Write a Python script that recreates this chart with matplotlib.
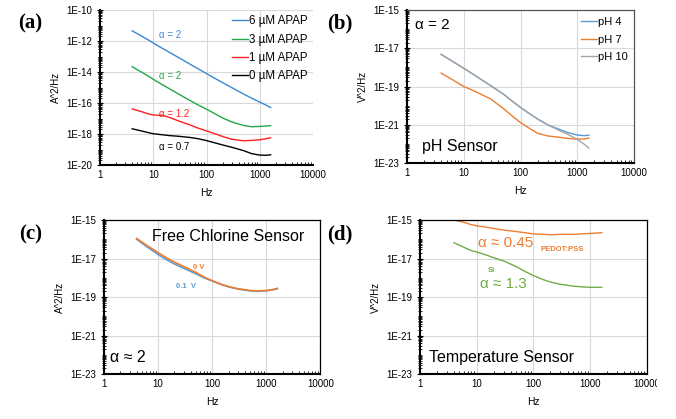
import numpy as np
import matplotlib
matplotlib.use("Agg")
import matplotlib.pyplot as plt
from matplotlib.ticker import FixedLocator, NullFormatter, LogLocator
from matplotlib.transforms import Bbox, TransformedBbox, IdentityTransform

plt.rcParams['font.family'] = ['Liberation Sans', 'DejaVu Sans']

"""Data read from the figure"""
freq = [4, 6, 8, 10, 15, 20, 30, 50, 70, 100, 150, 200, 300, 500, 700, 1000, 1300, 1600]

# (a) APAP sensor, A^2/Hz
apap_6 = [4.6e-12, 2.1e-12, 1.2e-12, 7.5e-13, 3.3e-13, 1.9e-13, 8.5e-14, 3.1e-14, 1.6e-14, 8e-15,
          3.6e-15, 2.1e-15, 9.8e-16, 3.8e-16, 2.1e-16, 1.15e-16, 7.5e-17, 5.2e-17]
apap_3 = [2.2e-14, 1.0e-14, 5.6e-15, 3.4e-15, 1.5e-15, 8.5e-16, 3.8e-16, 1.4e-16, 7.5e-17, 4e-17,
          1.9e-17, 1.1e-17, 6e-18, 3.6e-18, 3.0e-18, 3.1e-18, 3.3e-18, 3.5e-18]
apap_1 = [4.2e-17, 2.8e-17, 2.0e-17, 1.7e-17, 1.6e-17, 1.2e-17, 7e-18, 3.8e-18, 2.4e-18, 1.6e-18,
          1.0e-18, 7e-19, 4.6e-19, 3.7e-19, 3.9e-19, 4.3e-19, 5e-19, 5.8e-19]
apap_0 = [2.2e-18, 1.6e-18, 1.25e-18, 1.05e-18, 9e-19, 8e-19, 7.2e-19, 6e-19, 5e-19, 3.8e-19,
          2.6e-19, 2e-19, 1.4e-19, 8.5e-20, 5.5e-20, 4.4e-20, 4.3e-20, 4.6e-20]
apap_labels = ["6 µM APAP", "3 µM APAP", "1 µM APAP", "0 µM APAP"]

# (b) pH sensor, V^2/Hz
ph_4 = [4.8e-18, 2.3e-18, 1.35e-18, 9e-19, 4.2e-19, 2.4e-19, 1.1e-19, 4.0e-20, 1.8e-20, 8e-21,
        3.5e-21, 2.0e-21, 1.0e-21, 5.5e-22, 3.8e-22, 2.9e-22, 2.7e-22, 2.8e-22]
ph_7 = [5e-19, 2.5e-19, 1.5e-19, 1.0e-19, 6e-20, 4e-20, 2.2e-20, 7e-21, 3e-21, 1.3e-21,
        6e-22, 3.6e-22, 2.6e-22, 2.2e-22, 1.9e-22, 1.8e-22, 1.8e-22, 2.0e-22]
ph_10 = [4.8e-18, 2.3e-18, 1.35e-18, 9e-19, 4.2e-19, 2.4e-19, 1.1e-19, 4.0e-20, 1.8e-20, 8e-21,
         3.5e-21, 2.0e-21, 1.0e-21, 4.8e-22, 3.0e-22, 1.7e-22, 1.0e-22, 6e-23]
ph_labels = ["pH 4", "pH 7", "pH 10"]

# (c) free chlorine sensor, A^2/Hz
cl_0v = [1.1e-16, 5e-17, 3e-17, 2.0e-17, 1.0e-17, 6.5e-18, 3.8e-18, 1.9e-18, 1.1e-18, 7e-19,
         4.5e-19, 3.5e-19, 2.7e-19, 2.2e-19, 2.1e-19, 2.2e-19, 2.4e-19, 2.7e-19]
cl_01v = [1.0e-16, 4.3e-17, 2.5e-17, 1.6e-17, 8e-18, 5.2e-18, 3.1e-18, 1.6e-18, 1.0e-18, 6.8e-19,
          4.4e-19, 3.4e-19, 2.6e-19, 2.1e-19, 2.0e-19, 2.1e-19, 2.4e-19, 2.8e-19]

# (d) temperature sensor, V^2/Hz
pedot = [1.0e-15, 7.5e-16, 5.8e-16, 5e-16, 4.2e-16, 3.6e-16, 3.0e-16, 2.5e-16, 2.2e-16, 1.9e-16,
         1.8e-16, 1.7e-16, 1.8e-16, 1.8e-16, 1.9e-16, 2.0e-16, 2.1e-16, 2.2e-16]
si = [6.6e-17, 3.8e-17, 2.6e-17, 2.2e-17, 1.5e-17, 1.1e-17, 7.5e-18, 3.8e-18, 2.2e-18, 1.3e-18,
      8e-19, 6e-19, 4.6e-19, 3.7e-19, 3.4e-19, 3.2e-19, 3.2e-19, 3.2e-19]

"""Tick values"""
x_ticks = [1, 10, 100, 1000, 10000]
x_tick_labels = ["1", "10", "100", "1000", "10000"]
ya_ticks = [1e-20, 1e-18, 1e-16, 1e-14, 1e-12, 1e-10]
ya_tick_labels = ["1E-20", "1E-18", "1E-16", "1E-14", "1E-12", "1E-10"]
yb_ticks = [1e-23, 1e-21, 1e-19, 1e-17, 1e-15]
yb_tick_labels = ["1E-23", "1E-21", "1E-19", "1E-17", "1E-15"]

fig = plt.figure(figsize=(6.76, 4.19), dpi=100)
ax_a = fig.add_axes([0.148, 0.606, 0.315, 0.370])
ax_b = fig.add_axes([0.602, 0.611, 0.336, 0.365])
ax_c = fig.add_axes([0.154, 0.107, 0.320, 0.368])
ax_d = fig.add_axes([0.621, 0.107, 0.336, 0.368])


def style_axes(ax, yticks, ylabels, ylab, frame_col=None):
    ax.set_xscale('log')
    ax.set_yscale('log')
    ax.set_xlim(1, 10000)
    ax.set_ylim(yticks[0], yticks[-1])
    ax.xaxis.set_major_locator(FixedLocator(x_ticks))
    ax.set_xticklabels(x_tick_labels)
    ax.xaxis.set_minor_locator(LogLocator(base=10, subs=np.arange(2, 10)))
    ax.xaxis.set_minor_formatter(NullFormatter())
    ax.yaxis.set_major_locator(FixedLocator(yticks))
    ax.set_yticklabels(ylabels)
    ax.yaxis.set_minor_locator(LogLocator(base=10, subs=np.arange(1, 10), numticks=40))
    ax.yaxis.set_minor_formatter(NullFormatter())
    ax.grid(True, which='major', color='#d9d9d9', lw=0.8)
    ax.set_axisbelow(True)
    for s in ['top', 'right']:
        if frame_col is None:
            ax.spines[s].set_visible(False)
        else:
            ax.spines[s].set_color(frame_col)
            ax.spines[s].set_linewidth(0.9)
    for s in ['left', 'bottom']:
        ax.spines[s].set_linewidth(1.5)
    ax.tick_params(axis='both', which='major', labelsize=7, length=3, width=0.8)
    ax.tick_params(axis='x', which='major', direction='in', length=0)
    ax.tick_params(axis='x', which='minor', direction='in', length=2.5, width=0.6)
    ax.tick_params(axis='y', which='minor', direction='inout', length=2.5, width=0.6)
    ax.tick_params(axis='y', which='major', direction='inout', length=4)
    ax.set_xlabel("Hz", fontsize=7.5, labelpad=6)
    ax.set_ylabel(ylab, fontsize=7, labelpad=4)


"""(a)"""
style_axes(ax_a, ya_ticks, ya_tick_labels, "A^2/Hz")
ax_a.plot(freq, apap_6, color='#3c87d2', lw=1, label=apap_labels[0])
ax_a.plot(freq, apap_3, color='#22a84a', lw=1, label=apap_labels[1])
ax_a.plot(freq, apap_1, color='#ff1e1e', lw=1, label=apap_labels[2])
ax_a.plot(freq, apap_0, color='black', lw=1, label=apap_labels[3])
ax_a.legend(loc='upper right', frameon=False, fontsize=8.3, handlelength=1.4,
            handletextpad=0.1, labelspacing=0.55, borderaxespad=0.05)
ax_a.text(12.8, 2.5e-12, "α = 2", color='#3c87d2', fontsize=7, va='center')
ax_a.text(12.8, 5.5e-15, "α = 2", color='#22a84a', fontsize=7, va='center')
ax_a.text(12.8, 2e-17, "α = 1.2", color='#ff1e1e', fontsize=7, va='center')
ax_a.text(12.8, 1.4e-19, "α = 0.7", color='black', fontsize=7, va='center')

"""(b)"""
style_axes(ax_b, yb_ticks, yb_tick_labels, "V^2/Hz", frame_col='#555555')
ax_b.plot(freq, ph_4, color='#5b9bd5', lw=1, label=ph_labels[0])
ax_b.plot(freq, ph_7, color='#ed7d31', lw=1, label=ph_labels[1])
ax_b.plot(freq, ph_10, color='#a5a5a5', lw=1, label=ph_labels[2])
ax_b.legend(loc='upper right', frameon=False, fontsize=8, handlelength=1.4,
            handletextpad=0.1, labelspacing=0.7, borderaxespad=0.2)
ax_b.text(0.035, 0.9, "α = 2", transform=ax_b.transAxes, fontsize=11, va='center')
ax_b.text(0.065, 0.11, "pH Sensor", transform=ax_b.transAxes, fontsize=11.5, va='center')

"""(c)"""
style_axes(ax_c, yb_ticks, yb_tick_labels, "A^2/Hz", frame_col='black')
ax_c.plot(freq, cl_01v, color='#5b9bd5', lw=1.2)
ax_c.plot(freq, cl_0v, color='#ed7d31', lw=1.2)
ax_c.text(44, 3.5e-18, "0 V", color='#ed7d31', fontsize=5.5, fontweight='bold', va='center')
ax_c.text(21, 3.7e-19, "0.1  V", color='#5b9bd5', fontsize=5.5, fontweight='bold', va='center')
ax_c.text(0.22, 0.89, "Free Chlorine Sensor", transform=ax_c.transAxes, fontsize=11.5, va='center')
ax_c.text(0.025, 0.11, "α ≈ 2", transform=ax_c.transAxes, fontsize=11.5, va='center')

"""(d)"""
style_axes(ax_d, yb_ticks, yb_tick_labels, "V^2/Hz", frame_col='black')
ax_d.plot(freq, pedot, color='#ed7d31', lw=1)
ax_d.plot(freq, si, color='#70ad47', lw=1)
ax_d.text(0.255, 0.85, "α ≈ 0.45", transform=ax_d.transAxes, color='#ed7d31', fontsize=11, va='center')
ax_d.text(0.53, 0.81, "PEDOT:PSS", transform=ax_d.transAxes, color='#ed7d31', fontsize=5.5,
          fontweight='bold', va='center')
ax_d.text(0.30, 0.675, "Si", transform=ax_d.transAxes, color='#70ad47', fontsize=5.5,
          fontweight='bold', va='center')
ax_d.text(0.265, 0.585, "α ≈ 1.3", transform=ax_d.transAxes, color='#70ad47', fontsize=11, va='center')
ax_d.text(0.04, 0.11, "Temperature Sensor", transform=ax_d.transAxes, fontsize=11.5, va='center')

# the original image is cropped through the last tick label of (d)
clip = TransformedBbox(Bbox([[0, 0], [657, 419]]), IdentityTransform())
for t in ax_d.get_xticklabels():
    t.set_clip_on(True)
    t.set_clip_box(clip)

"""Panel letters"""
for lbl, xx, yy in [("(a)", 0.045, 0.945), ("(b)", 0.502, 0.945), ("(c)", 0.045, 0.44), ("(d)", 0.502, 0.44)]:
    fig.text(xx, yy, lbl, fontsize=15, fontweight='bold', family='Liberation Serif',
             ha='center', va='center')

plt.savefig("out.png", dpi=100)
